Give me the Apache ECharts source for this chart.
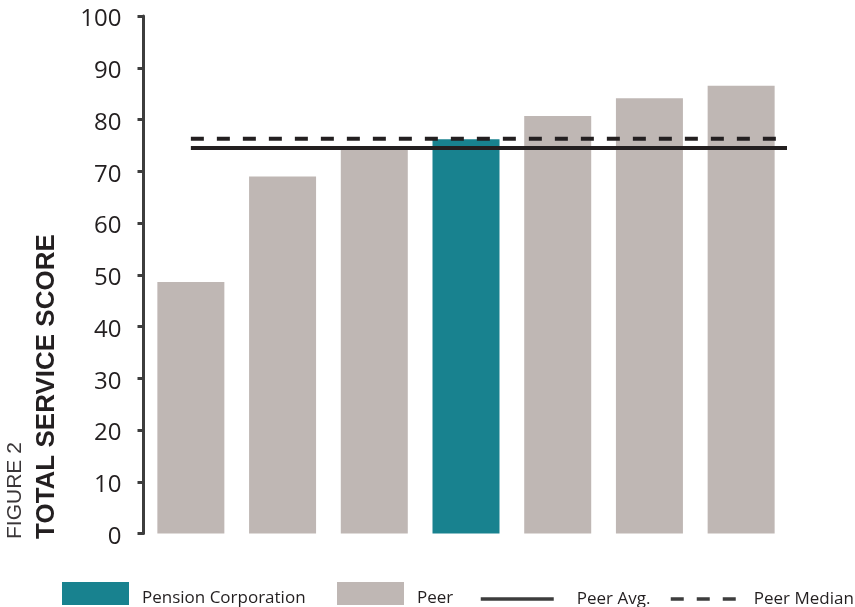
<!DOCTYPE html>
<html>
<head>
<meta charset="utf-8">
<title>Total Service Score</title>
<script src="https://cdn.jsdelivr.net/npm/echarts@6/dist/echarts.min.js"></script>
<style>
  html, body { margin: 0; padding: 0; background: #ffffff; }
  #chart { width: 855px; height: 607px; }
</style>
</head>
<body>
<div id="chart"></div>
<script>
// Total service score: six peers plus Pension Corporation, with the peer average and median
const categories = ['Peer 1', 'Peer 2', 'Peer 3', 'Pension Corporation', 'Peer 4', 'Peer 5', 'Peer 6'];
const peerScores = [48.6, 69.0, 74.5, null, 80.7, 84.1, 86.5];
const pensionScores = [null, null, null, 76.2, null, null, null];
const peerAvg = 74.5;
const peerMedian = 76.3;
const yTicks = { min: 0, max: 100, interval: 10 };

const TEAL = '#18828f';
const GREY = '#bfb7b4';
const INK = '#231f20';
const AXIS = '#3d3d3d';
const FONT = '"Open Sans", "Noto Sans", sans-serif';

// Reference lines run from the first bar's centre to the right edge of the plot
const lineStart = 0;
const lineEnd = categories.length - 0.5;

const chart = echarts.init(document.getElementById('chart'), null, { renderer: 'canvas' });

// One legend per entry so each sits at its own spot along the bottom
function legendBox(name, left, top, w, h, gapLeft, dropText, extra) {
  return Object.assign({
    data: [name],
    left: left,
    top: top,
    padding: 0,
    itemWidth: w,
    itemHeight: h,
    icon: 'rect',
    selectedMode: false,
    formatter: '{t|{name}}',
    textStyle: {
      fontFamily: FONT,
      fontSize: 17,
      color: INK,
      rich: {
        t: {
          fontFamily: FONT,
          fontSize: 17,
          color: INK,
          padding: [dropText, 0, 0, gapLeft]
        }
      }
    }
  }, extra || {});
}

const lineLegend = {
  icon: 'inherit',
  itemStyle: { opacity: 0 },
  lineStyle: { width: 3.5, color: AXIS }
};

chart.setOption({
  animation: false,
  backgroundColor: '#ffffff',
  grid: { left: 145, right: 68, top: 16, bottom: 73.5, containLabel: false },
  xAxis: [
    {
      type: 'category',
      data: categories,
      show: false
    },
    {
      type: 'value',
      min: -0.5,
      max: categories.length - 0.5,
      show: false
    }
  ],
  yAxis: {
    type: 'value',
    min: yTicks.min,
    max: yTicks.max,
    interval: yTicks.interval,
    offset: 1.5,
    axisLine: { show: true, onZero: false, lineStyle: { color: AXIS, width: 3 } },
    axisTick: { show: true, inside: false, length: 6, lineStyle: { color: AXIS, width: 3 } },
    splitLine: { show: false },
    axisLabel: {
      margin: 22,
      formatter: '{v|{value}}',
      rich: {
        v: {
          fontFamily: FONT,
          fontSize: 24,
          color: INK,
          padding: [7, 0, 0, 0]
        }
      }
    }
  },
  legend: [
    legendBox('Pension Corporation', 62, 582, 67, 23, 8, 10),
    legendBox('Peer', 337, 582, 67, 23, 8, 10),
    legendBox('Peer Avg.', 479, 590.5, 73, 14, 18, 0, lineLegend),
    legendBox('Peer Median', 669, 590.5, 67, 14, 11, 0, lineLegend)
  ],
  graphic: [
    {
      type: 'text',
      x: 26,
      y: 539,
      rotation: Math.PI / 2,
      style: {
        text: 'FIGURE 2',
        font: '300 21px "Liberation Sans", Arial, sans-serif',
        fill: '#3a3638',
        textAlign: 'left',
        textVerticalAlign: 'bottom'
      }
    },
    {
      type: 'text',
      x: 60,
      y: 539,
      rotation: Math.PI / 2,
      style: {
        text: 'TOTAL SERVICE SCORE',
        font: 'bold 26px "Liberation Sans", Arial, sans-serif',
        fill: INK,
        textAlign: 'left',
        textVerticalAlign: 'bottom'
      }
    }
  ],
  series: [
    {
      name: 'Peer',
      type: 'bar',
      data: peerScores,
      barWidth: 67,
      barGap: '-100%',
      itemStyle: { color: GREY },
      z: 2
    },
    {
      name: 'Pension Corporation',
      type: 'bar',
      data: pensionScores,
      barWidth: 67,
      barGap: '-100%',
      itemStyle: { color: TEAL },
      z: 2
    },
    {
      name: 'Peer Avg.',
      type: 'line',
      xAxisIndex: 1,
      data: [[lineStart, peerAvg], [lineEnd, peerAvg]],
      symbol: 'none',
      lineStyle: { color: INK, width: 4, type: 'solid' },
      itemStyle: { color: INK },
      z: 5
    },
    {
      name: 'Peer Median',
      type: 'line',
      xAxisIndex: 1,
      data: [[lineStart, peerMedian], [lineEnd, peerMedian]],
      symbol: 'none',
      lineStyle: { color: INK, width: 4, type: [13, 13] },
      itemStyle: { color: INK },
      z: 5
    }
  ]
});
</script>
</body>
</html>
